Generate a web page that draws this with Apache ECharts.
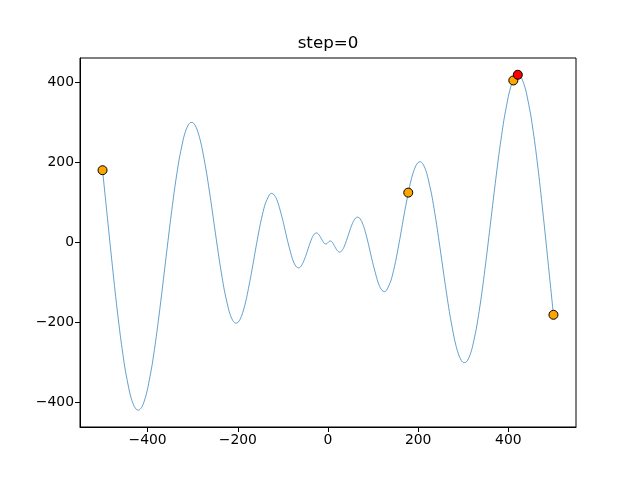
<!DOCTYPE html>
<html>
<head>
<meta charset="utf-8">
<script src="https://cdn.jsdelivr.net/npm/echarts@6/dist/echarts.min.js"></script>
<style>html,body{margin:0;padding:0;background:#fff;}#c{width:640px;height:480px;}</style>
</head>
<body>
<div id="c"></div>
<script>
const curveX = [-500,-490,-480,-470,-460,-450,-440,-435,-430,-425,-420,-415,-410,-405,-400,-390,-380,-370,-360,-350,-340,-330,-320,-315,-310,-305,-300,-295,-290,-285,-280,-270,-260,-250,-240,-230,-220,-215,-210,-205,-200,-195,-190,-185,-180,-170,-160,-150,-140,-130,-125,-120,-115,-110,-100,-90,-80,-75,-70,-65,-60,-55,-50,-45,-40,-35,-30,-25,-20,-15,-10,-7,-5,-3,-2,-1,
0,1,2,3,5,7,10,15,20,25,30,35,40,45,50,55,60,65,70,75,80,85,90,100,110,115,120,125,130,140,150,160,170,180,185,190,195,200,205,210,215,220,230,240,250,260,270,280,285,290,295,300,305,310,315,320,330,340,350,360,370,380,390,400,405,410,415,420,425,430,435,440,450,460,470,480,490,500];
const curveY = [180.6,70.6,-39.4,-144.1,-237.9,-315.9,-373.8,-394.3,-408.8,-416.9,-418.9,-414.5,-404.0,-387.5,-365.2,-305.2,-228.2,-139.2,-44.6,49.3,135.7,208.5,262.4,280.9,293.4,299.8,299.7,293.4,281.0,262.8,239.4,178.8,105.2,25.8,-51.5,-118.7,-168.9,-185.9,-197.0,-201.7,-200.0,-192.1,-178.3,-159.1,-135.2,-77.3,-13.2,47.0,93.8,119.4,122.9,119.9,110.8,96.1,54.4,5.6,-37.0,-51.9,-61.0,-63.6,-59.6,-49.8,-35.4,-18.6,-1.7,12.6,21.6,24.0,19.4,10.0,0.2,-3.3,-3.9,-3.0,-2.0,-0.8,
0,0.8,2.0,3.0,3.9,3.3,-0.2,-10.0,-19.4,-24.0,-21.6,-12.6,1.7,18.6,35.4,49.8,59.6,63.6,61.0,51.9,37.0,17.3,-5.6,-54.4,-96.1,-110.8,-119.9,-122.9,-119.4,-93.8,-47.0,13.2,77.3,135.2,159.1,178.3,192.1,200.0,201.7,197.0,185.9,168.9,118.7,51.5,-25.8,-105.2,-178.8,-239.4,-262.8,-281.0,-293.4,-299.7,-299.8,-293.4,-280.9,-262.4,-208.5,-135.7,-49.3,44.6,139.2,228.2,305.2,365.2,387.5,404.0,414.5,418.9,416.9,408.8,394.3,373.8,315.9,237.9,144.1,39.4,-70.6,-180.6];
const popX = [-500, 178, 411, 500];
const popY = [180.6, 124.6, 404.8, -180.6];
const bestX = [420.97];
const bestY = [418.98];
const xTicks = [-400, -200, 0, 200, 400];
const yTicks = [-400, -200, 0, 200, 400];
const titleText = 'step=0';

const fmt = v => String(v).replace('-', '\u2212');
const chart = echarts.init(document.getElementById('c'), null, {renderer: 'canvas'});
const font = 'DejaVu Sans';
chart.setOption({
  animation: false,
  backgroundColor: '#fff',
  title: {
    text: titleText, left: 323, top: 30, textAlign: 'center',
    textStyle: {fontFamily: font, fontSize: 16.7, fontWeight: 'normal', color: '#000'}
  },
  grid: {left: 80, right: 64, top: 58, bottom: 53, show: true, borderColor: '#000', borderWidth: 1, containLabel: false},
  xAxis: {
    type: 'value', min: -550, max: 550,
    splitLine: {show: false},
    axisLine: {show: true, onZero: false, lineStyle: {color: '#000', width: 1}},
    axisTick: {show: true, length: 5, lineStyle: {color: '#000'}, customValues: xTicks},
    axisLabel: {customValues: xTicks, formatter: fmt, fontFamily: font, fontSize: 13.9, color: '#000', margin: 6}
  },
  yAxis: {
    type: 'value', min: -460.9, max: 460.9,
    splitLine: {show: false},
    axisLine: {show: true, onZero: false, lineStyle: {color: '#000', width: 1}},
    axisTick: {show: true, length: 5, lineStyle: {color: '#000'}, customValues: yTicks},
    axisLabel: {customValues: yTicks, formatter: fmt, fontFamily: font, fontSize: 13.9, color: '#000', margin: 6}
  },
  series: [
    {
      type: 'line', data: curveX.map((x, i) => [x, curveY[i]]),
      smooth: 0.2, showSymbol: false, symbol: 'none',
      lineStyle: {color: '#1f77b4', width: 0.7}, z: 2
    },
    {
      type: 'scatter', data: popX.map((x, i) => [x, popY[i]]),
      symbolSize: 9, itemStyle: {color: '#ffa500', borderColor: '#000', borderWidth: 1, opacity: 1}, z: 3
    },
    {
      type: 'scatter', data: bestX.map((x, i) => [x, bestY[i]]),
      symbolSize: 9, itemStyle: {color: '#ff0000', borderColor: '#000', borderWidth: 1, opacity: 1}, z: 4
    }
  ]
});
</script>
</body>
</html>
